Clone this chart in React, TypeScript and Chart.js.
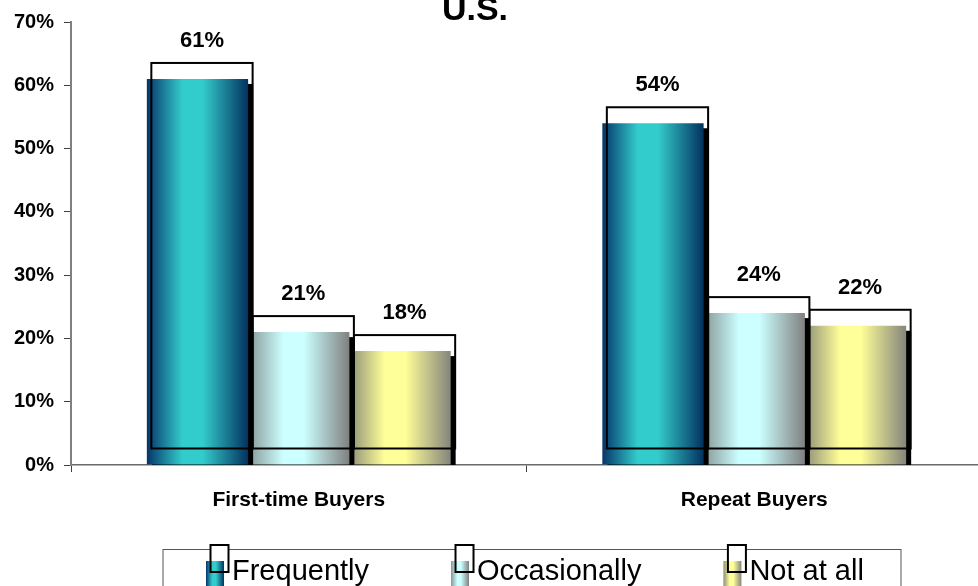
import React, { useEffect, useRef } from 'react';
import { Chart, registerables } from 'chart.js';

Chart.register(...registerables);

// ---- data ----
const categories = ['First-time Buyers', 'Repeat Buyers'];
const seriesNames = ['Frequently', 'Occasionally', 'Not at all'];
const frequently = [61, 54];
const occasionally = [21, 24];
const notAtAll = [18, 22];
const yTickValues = [0, 10, 20, 30, 40, 50, 60, 70];
const chartTitle = 'U.S.';

// edge / centre / edge colours of each series' horizontal shading
const palettes: string[][] = [
  ['#06356a', '#33cccc', '#03325f'],
  ['#879797', '#ccffff', '#808080'],
  ['#8e8e78', '#ffff99', '#85857c'],
];

const FONT = "Arial, 'Liberation Sans', Helvetica, sans-serif";
const CAT_PCT = 0.667;
// offset of the outlined back face and of the drop shadow
const BOX_DX = 4.5;
const BOX_DY = 16;
const SHADOW_DX = 5;
const SHADOW_DY = 5;

// the plot runs slightly past the visible right edge
const CANVAS_W = 982;
const CANVAS_H = 586;

function shade(ctx: CanvasRenderingContext2D, left: number, width: number, pal: string[]) {
  const g = ctx.createLinearGradient(left, 0, left + width, 0);
  g.addColorStop(0, pal[0]);
  g.addColorStop(0.35, pal[1]);
  g.addColorStop(0.55, pal[1]);
  g.addColorStop(1, pal[2]);
  return g;
}

function barFill(seriesIndex: number) {
  const pal = palettes[seriesIndex];
  return (c: any) => {
    const chart = c.chart;
    const xs = chart.scales && chart.scales.x;
    if (!xs || c.type !== 'data') return pal[1];
    const catW = (xs.right - xs.left) / categories.length;
    const groupW = catW * CAT_PCT;
    const barW = groupW / seriesNames.length;
    const left = xs.getPixelForValue(c.dataIndex) - groupW / 2 + c.datasetIndex * barW;
    if (!Number.isFinite(left) || !Number.isFinite(barW) || barW <= 0) return pal[1];
    return shade(chart.ctx, left, barW, pal);
  };
}

function barRects(meta: any) {
  return meta.data.map((bar: any) => {
    const p = bar.getProps(['x', 'y', 'base', 'width'], true);
    return { left: p.x - p.width / 2, top: p.y, width: p.width, height: p.base - p.y };
  });
}

// back face (white, outlined) and black shadow behind every bar
const boxedBars = {
  id: 'boxedBars',
  beforeDatasetDraw(chart: any, args: any) {
    const ctx = chart.ctx;
    const a = chart.chartArea;
    ctx.save();
    ctx.beginPath();
    ctx.rect(a.left, a.top, a.right - a.left, a.bottom - a.top);
    ctx.clip();
    for (const r of barRects(args.meta)) {
      ctx.fillStyle = '#ffffff';
      ctx.fillRect(r.left + BOX_DX, r.top - BOX_DY, r.width, r.height);
      ctx.fillStyle = '#000000';
      ctx.fillRect(r.left + SHADOW_DX, r.top + SHADOW_DY, r.width, r.height);
    }
    ctx.restore();
  },
  afterDatasetDraw(chart: any, args: any) {
    const ctx = chart.ctx;
    ctx.save();
    ctx.strokeStyle = '#000000';
    ctx.lineWidth = 2;
    for (const r of barRects(args.meta)) {
      ctx.strokeRect(r.left + BOX_DX, r.top - BOX_DY, r.width, r.height);
    }
    ctx.restore();
  },
};

// value labels, title and legend
const decorations = {
  id: 'decorations',
  afterDatasetsDraw(chart: any) {
    const ctx = chart.ctx;
    ctx.save();
    ctx.fillStyle = '#000';
    ctx.font = `bold 22px ${FONT}`;
    ctx.textAlign = 'center';
    ctx.textBaseline = 'alphabetic';
    chart.data.datasets.forEach((ds: any, i: number) => {
      const meta = chart.getDatasetMeta(i);
      meta.data.forEach((bar: any, j: number) => {
        const p = bar.getProps(['x', 'y'], true);
        ctx.fillText(`${ds.data[j]}%`, p.x + BOX_DX, p.y - 32);
      });
    });
    ctx.restore();
  },
  afterDraw(chart: any) {
    const ctx = chart.ctx;
    ctx.save();
    // title
    ctx.fillStyle = '#000';
    ctx.font = `bold 34px ${FONT}`;
    ctx.textAlign = 'center';
    ctx.textBaseline = 'alphabetic';
    ctx.fillText(chartTitle, 475, 20);

    // legend frame
    const boxL = 163;
    const boxR = 901;
    const boxT = 549.5;
    ctx.strokeStyle = '#555';
    ctx.lineWidth = 1;
    ctx.strokeRect(boxL, boxT, boxR - boxL, 60);

    ctx.font = `29px ${FONT}`;
    ctx.textAlign = 'left';
    const markW = 18;
    const markH = 27;
    const textGap = 26;
    const itemGap = 82;
    const widths = seriesNames.map((s) => textGap + ctx.measureText(s).width);
    let x = 206;
    const markTop = 561;
    seriesNames.forEach((name, i) => {
      ctx.fillStyle = '#fff';
      ctx.fillRect(x + BOX_DX, markTop - BOX_DY, markW, markH);
      ctx.fillStyle = shade(ctx, x, markW, palettes[i]);
      ctx.fillRect(x, markTop, markW, markH);
      ctx.strokeStyle = '#000';
      ctx.lineWidth = 2;
      ctx.strokeRect(x + BOX_DX, markTop - BOX_DY, markW, markH);
      ctx.fillStyle = '#000';
      ctx.fillText(name, x + textGap, 579.5);
      x += widths[i] + itemGap;
    });
    ctx.restore();
  },
};

export default function App() {
  const canvasRef = useRef<HTMLCanvasElement | null>(null);

  useEffect(() => {
    const canvas = canvasRef.current;
    if (!canvas) return;
    const seriesValues = [frequently, occasionally, notAtAll];
    const chart = new Chart(canvas, {
      type: 'bar',
      data: {
        labels: categories,
        datasets: seriesNames.map((name, i) => ({
          label: name,
          data: seriesValues[i],
          backgroundColor: barFill(i),
          borderWidth: 0,
          barPercentage: 1,
          categoryPercentage: CAT_PCT,
        })),
      },
      options: {
        responsive: false,
        animation: false,
        devicePixelRatio: 1,
        layout: { padding: { top: 17, right: 0, left: 0, bottom: 0 } },
        plugins: {
          legend: { display: false },
          title: { display: false },
          tooltip: { enabled: false },
        },
        scales: {
          x: {
            type: 'category',
            offset: true,
            afterFit: (s: any) => {
              s.height = 121;
            },
            grid: {
              display: true,
              drawOnChartArea: false,
              drawTicks: true,
              tickLength: 7,
              color: '#404040',
              offset: true,
            },
            border: { display: true, color: '#6a6a6a', width: 1.5 },
            ticks: {
              color: '#000',
              font: { family: FONT, size: 21, weight: 'bold' },
              padding: 16,
              maxRotation: 0,
              autoSkip: false,
            },
          },
          y: {
            min: 0,
            max: 70,
            afterFit: (s: any) => {
              s.width = 71;
            },
            afterBuildTicks: (s: any) => {
              s.ticks = yTickValues.map((v) => ({ value: v }));
            },
            grid: {
              display: true,
              drawOnChartArea: false,
              drawTicks: true,
              tickLength: 7,
              color: '#404040',
            },
            border: { display: true, color: '#808080', width: 2 },
            ticks: {
              color: '#000',
              font: { family: FONT, size: 20, weight: 'bold' },
              padding: 10,
              callback: (v: any) => `${v}%`,
            },
          },
        },
      },
      plugins: [boxedBars, decorations],
    });
    return () => chart.destroy();
  }, []);

  return (
    <div style={{ position: 'absolute', left: 0, top: 0, width: 978, height: 586, background: '#fff', overflow: 'hidden' }}>
      <canvas ref={canvasRef} width={CANVAS_W} height={CANVAS_H} style={{ display: 'block' }} />
    </div>
  );
}
